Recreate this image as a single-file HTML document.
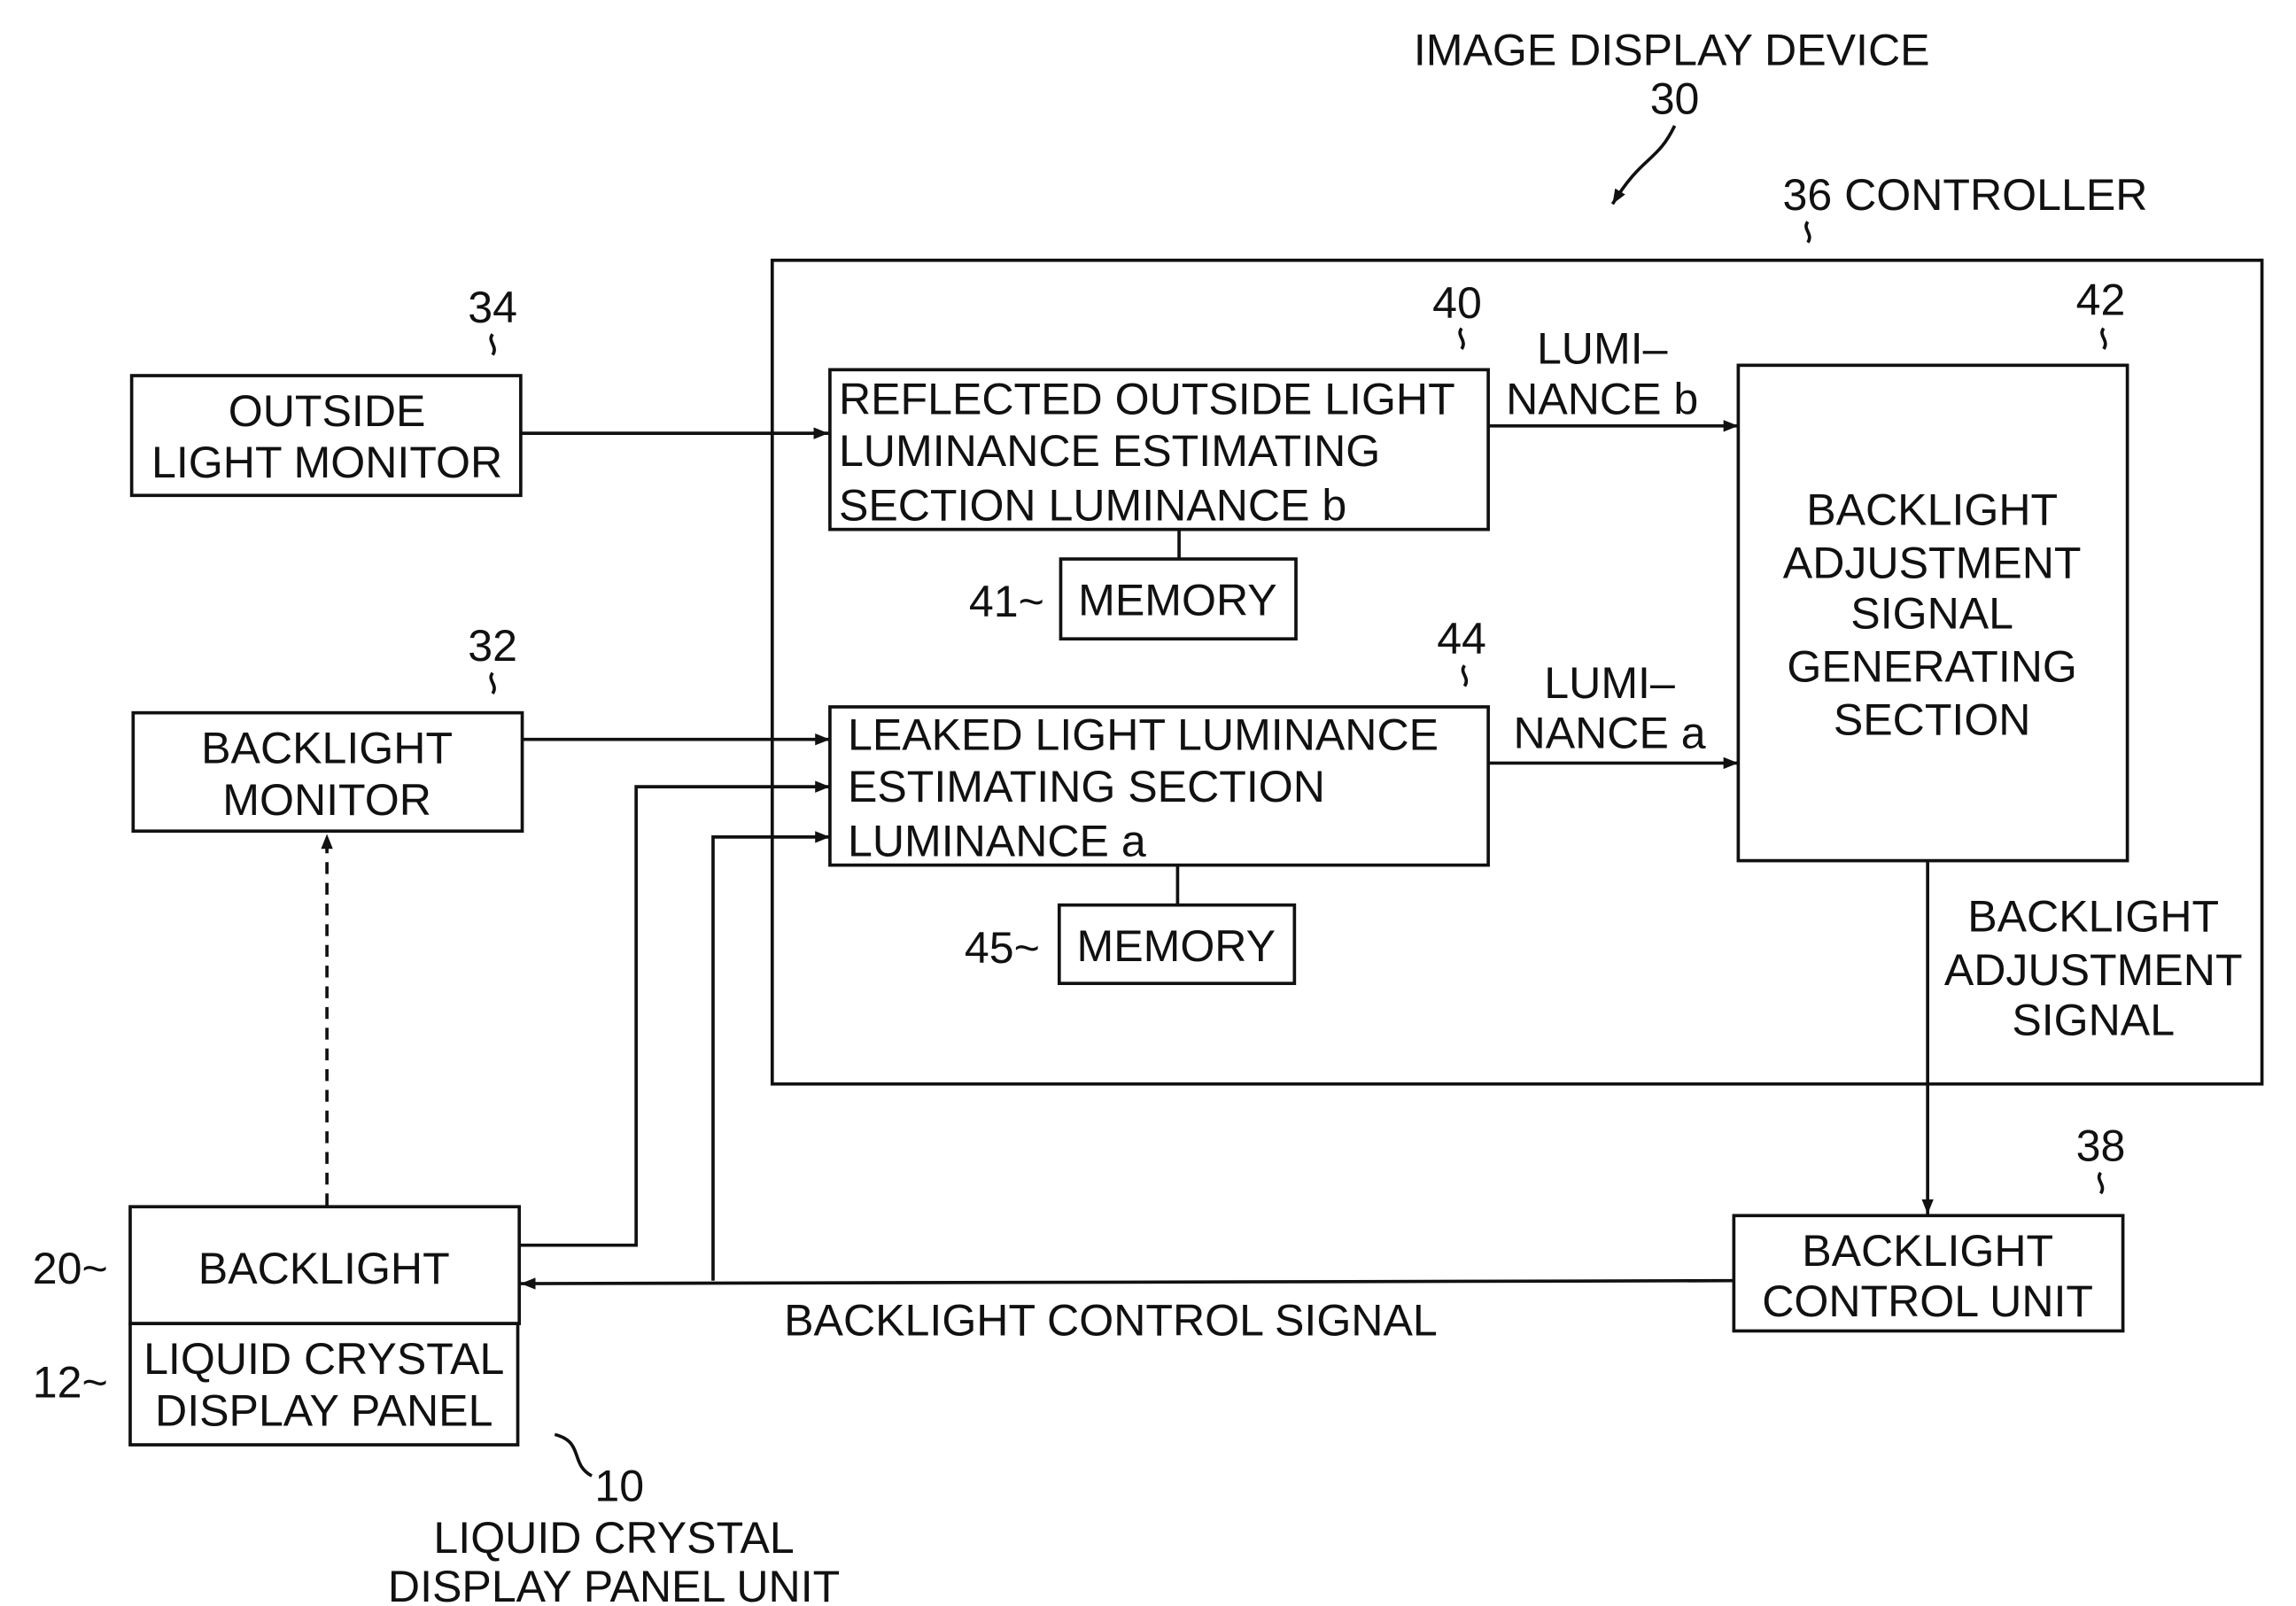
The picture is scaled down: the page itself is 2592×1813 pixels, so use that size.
<!DOCTYPE html>
<html><head><meta charset="utf-8"><style>
html,body{margin:0;padding:0;background:#fff;}
svg{display:block;}
text{font-family:"Liberation Sans",sans-serif;font-size:30px;fill:#111;}
</style></head><body>
<svg width="2592" height="1813" viewBox="0 0 1552 1086" preserveAspectRatio="none" xmlns="http://www.w3.org/2000/svg">
<defs><marker id="a" markerWidth="10" markerHeight="8" refX="10" refY="4" orient="auto" markerUnits="userSpaceOnUse"><path d="M0,0 L10,4 L0,8 Z" fill="#111"/></marker></defs>
<g stroke="#111" stroke-width="2.2" fill="none">
<rect x="522" y="176" width="1007" height="557"/>
<rect x="89" y="254" width="263" height="81"/>
<rect x="561" y="250" width="445" height="108"/>
<rect x="717" y="378" width="159" height="54"/>
<rect x="1175" y="247" width="263" height="335"/>
<rect x="561" y="478" width="445" height="107"/>
<rect x="716" y="612" width="159" height="53"/>
<rect x="90" y="482" width="263" height="80"/>
<rect x="88" y="816" width="263" height="79"/>
<rect x="88" y="895" width="262" height="82"/>
<rect x="1172" y="822" width="263" height="78"/>
<line x1="797" y1="358" x2="797" y2="378"/>
<line x1="796" y1="585" x2="796" y2="612"/>
<line x1="352" y1="293" x2="560" y2="293" marker-end="url(#a)"/>
<line x1="1006" y1="288" x2="1175" y2="288" marker-end="url(#a)"/>
<line x1="1006" y1="516" x2="1175" y2="516" marker-end="url(#a)"/>
<line x1="353" y1="500" x2="561" y2="500" marker-end="url(#a)"/>
<polyline points="352,842 430,842 430,532 561,532" marker-end="url(#a)"/>
<polyline points="482,866 482,566 561,566" marker-end="url(#a)"/>
<line x1="1172" y1="866" x2="352" y2="868" marker-end="url(#a)"/>
<line x1="221" y1="815" x2="221" y2="564" stroke-dasharray="8,6" marker-end="url(#a)"/>
<line x1="1303" y1="582" x2="1303" y2="821" marker-end="url(#a)"/>
<path d="M1132,85 C1120,110 1110,105 1090,138" marker-end="url(#a)"/>
<path d="M375,970 C395,975 385,990 400,998"/>
<path d="M1222,150 c-4,5 4,8 0,14"/>
<path d="M333,226 c-4,5 4,8 0,14"/>
<path d="M333,455 c-4,5 4,8 0,14"/>
<path d="M988,222 c-4,5 4,8 0,14"/>
<path d="M990,450 c-4,5 4,8 0,14"/>
<path d="M1422,222 c-4,5 4,8 0,14"/>
<path d="M1420,793 c-4,5 4,8 0,14"/>
</g>
<text x="1130" y="44" text-anchor="middle">IMAGE DISPLAY DEVICE</text>
<text x="1132" y="77" text-anchor="middle">30</text>
<text x="1205" y="142">36 CONTROLLER</text>
<text x="333" y="218" text-anchor="middle">34</text>
<text x="221" y="288" text-anchor="middle">OUTSIDE</text>
<text x="221" y="323" text-anchor="middle">LIGHT MONITOR</text>
<text x="985" y="215" text-anchor="middle">40</text>
<text x="567" y="280">REFLECTED OUTSIDE LIGHT</text>
<text x="567" y="315">LUMINANCE ESTIMATING</text>
<text x="567" y="352">SECTION LUMINANCE b</text>
<text x="655" y="417">41~</text>
<text x="796" y="416" text-anchor="middle">MEMORY</text>
<text x="1083" y="246" text-anchor="middle">LUMI–</text>
<text x="1083" y="280" text-anchor="middle">NANCE b</text>
<text x="1420" y="213" text-anchor="middle">42</text>
<text x="1306" y="355" text-anchor="middle">BACKLIGHT</text>
<text x="1306" y="391" text-anchor="middle">ADJUSTMENT</text>
<text x="1306" y="425" text-anchor="middle">SIGNAL</text>
<text x="1306" y="461" text-anchor="middle">GENERATING</text>
<text x="1306" y="497" text-anchor="middle">SECTION</text>
<text x="988" y="442" text-anchor="middle">44</text>
<text x="573" y="507">LEAKED LIGHT LUMINANCE</text>
<text x="573" y="542">ESTIMATING SECTION</text>
<text x="573" y="579">LUMINANCE a</text>
<text x="1088" y="472" text-anchor="middle">LUMI–</text>
<text x="1088" y="506" text-anchor="middle">NANCE a</text>
<text x="652" y="651">45~</text>
<text x="795" y="650" text-anchor="middle">MEMORY</text>
<text x="333" y="447" text-anchor="middle">32</text>
<text x="221" y="516" text-anchor="middle">BACKLIGHT</text>
<text x="221" y="551" text-anchor="middle">MONITOR</text>
<text x="1415" y="630" text-anchor="middle">BACKLIGHT</text>
<text x="1415" y="666" text-anchor="middle">ADJUSTMENT</text>
<text x="1415" y="700" text-anchor="middle">SIGNAL</text>
<text x="1420" y="785" text-anchor="middle">38</text>
<text x="1303" y="856" text-anchor="middle">BACKLIGHT</text>
<text x="1303" y="890" text-anchor="middle">CONTROL UNIT</text>
<text x="530" y="903">BACKLIGHT CONTROL SIGNAL</text>
<text x="219" y="868" text-anchor="middle">BACKLIGHT</text>
<text x="219" y="929" text-anchor="middle">LIQUID CRYSTAL</text>
<text x="219" y="964" text-anchor="middle">DISPLAY PANEL</text>
<text x="22" y="868">20~</text>
<text x="22" y="945">12~</text>
<text x="402" y="1015">10</text>
<text x="415" y="1050" text-anchor="middle">LIQUID CRYSTAL</text>
<text x="415" y="1083" text-anchor="middle">DISPLAY PANEL UNIT</text>
</svg>
</body></html>
